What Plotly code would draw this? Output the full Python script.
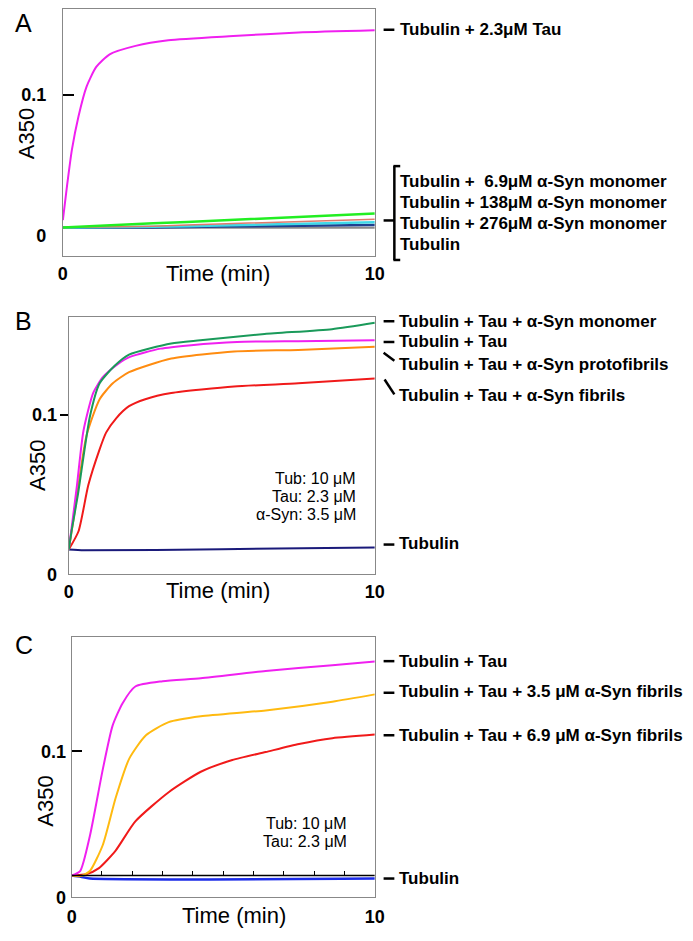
import plotly.graph_objects as go

# ---------------- data ----------------
# Panel A
a_tau_t = [0, 0.135, 0.29, 0.5, 0.76, 1.07, 1.5, 2.33, 3.38, 5.46, 7.55, 10]
a_tau_v = [0.0108, 0.0355, 0.061, 0.0847, 0.106, 0.12, 0.129, 0.135, 0.139, 0.142, 0.1446, 0.1462]
a_flat_t = [0, 2.9, 5, 10]
a_syn69_v = [0.0056, 0.0085, 0.0105, 0.0155]
a_syn138_v = [0.0056, 0.0065, 0.0080, 0.0115]
a_syn276_v = [0.0056, 0.0060, 0.0070, 0.0092]
a_tub_v = [0.0056, 0.0056, 0.0062, 0.0073]
a_base_v = [0.0054, 0.0054, 0.0054, 0.0054]

# Panel B
b_tau_t = [0, 0.1, 0.27, 0.48, 0.8, 1.12, 1.6, 2.0, 3.0, 4.0, 5.5, 7.5, 10]
b_tau_v = [0.0155, 0.03, 0.056, 0.09, 0.114, 0.124, 0.132, 0.1366, 0.1418, 0.144, 0.146, 0.1465, 0.147]
b_mono_t = [0, 0.1, 0.3, 0.69, 1.01, 1.5, 1.97, 3.35, 4.3, 6.4, 8.6, 10]
b_mono_v = [0.0155, 0.028, 0.05, 0.099, 0.12, 0.131, 0.138, 0.145, 0.147, 0.151, 0.154, 0.158]
b_proto_t = [0, 0.16, 0.58, 1.01, 1.44, 1.97, 3.35, 5.4, 7.5, 10]
b_proto_v = [0.0155, 0.035, 0.087, 0.110, 0.12, 0.127, 0.1356, 0.140, 0.141, 0.143]
b_fib_t = [0, 0.32, 0.64, 1.0, 1.22, 1.55, 1.97, 2.5, 3.35, 5.4, 7.5, 10]
b_fib_v = [0.0155, 0.027, 0.056, 0.078, 0.089, 0.098, 0.1056, 0.110, 0.1139, 0.118, 0.120, 0.123]
b_tub_t = [0, 0.5, 5, 10]
b_tub_v = [0.0155, 0.0150, 0.0157, 0.0168]

# Panel C
c_tau_t = [0, 0.28, 0.6, 1.03, 1.35, 1.68, 2.1, 3.0, 4.26, 6.4, 8.6, 10]
c_tau_v = [0.0149, 0.018, 0.042, 0.088, 0.1176, 0.133, 0.1444, 0.148, 0.150, 0.155, 0.159, 0.1615]
c_f35_t = [0, 0.3, 0.6, 1.03, 1.45, 1.9, 2.45, 3.2, 4.26, 6.4, 8.6, 10]
c_f35_v = [0.0149, 0.0145, 0.018, 0.036, 0.068, 0.095, 0.111, 0.12, 0.124, 0.128, 0.134, 0.139]
c_f69_t = [0, 0.5, 0.9, 1.45, 2.1, 3.2, 4.26, 5.3, 6.4, 7.5, 8.6, 10]
c_f69_v = [0.0149, 0.016, 0.020, 0.032, 0.052, 0.072, 0.086, 0.094, 0.0995, 0.105, 0.109, 0.1115]
c_tub_t = [0, 0.3, 0.6, 10]
c_tub_v = [0.0149, 0.014, 0.0128, 0.0128]
c_base_t = [0, 10]
c_base_v = [0.0149, 0.0149]

y_tickvals = [0, 0.1]
y_ticktext = ["0", "0.1"]
x_tickvals = [0, 10]
x_ticktext = ["0", "10"]

# ---------------- figure ----------------
# the page body has an 8px margin, so the figure is 16px smaller than the window
OFF = 8
W, H = 693 - 2 * OFF, 941 - 2 * OFF
def X(px): return min(1.0, max(0.0, (px - OFF) / W))
def Y(py): return min(1.0, max(0.0, 1 - (py - OFF) / H))

FONT = "Liberation Sans, Arial, sans-serif"
fig = go.Figure()

def add(t, v, color, xa, ya, width=2, shape="spline"):
    fig.add_trace(go.Scatter(x=t, y=v, mode="lines", xaxis=xa, yaxis=ya,
                             line=dict(color=color, width=width, shape=shape, smoothing=0.6),
                             showlegend=False, hoverinfo="skip"))

# A
add(a_flat_t, a_base_v, "#8a8a8a", "x", "y", 2)
add(a_flat_t, a_tub_v, "#1f3f8f", "x", "y", 2.5)
add(a_flat_t, a_syn276_v, "#3fd8e8", "x", "y", 2.5)
add(a_flat_t, a_syn138_v, "#e07a6a", "x", "y", 1.5)
add(a_flat_t, a_syn69_v, "#22ee22", "x", "y", 2.5)
add(a_tau_t, a_tau_v, "#f020f0", "x", "y", 2)
# B
add(b_tub_t, b_tub_v, "#1a1a7a", "x2", "y2", 2)
add(b_fib_t, b_fib_v, "#f01a1a", "x2", "y2", 2)
add(b_proto_t, b_proto_v, "#ff8c10", "x2", "y2", 2)
add(b_tau_t, b_tau_v, "#f020f0", "x2", "y2", 2)
add(b_mono_t, b_mono_v, "#1a9a5a", "x2", "y2", 2)
# C
add(c_base_t, c_base_v, "black", "x4", "y3", 1.5, "linear")
add(c_tub_t, c_tub_v, "#1a2ae8", "x3", "y3", 2.5)
add(c_f69_t, c_f69_v, "#f01a1a", "x3", "y3", 2)
add(c_f35_t, c_f35_v, "#ffba10", "x3", "y3", 2)
add(c_tau_t, c_tau_v, "#f020f0", "x3", "y3", 2)

tickfont = dict(family=FONT, size=18, color="black", weight="bold")

def xaxis(dom, anchor, standoff):
    return dict(domain=dom, anchor=anchor, range=[0, 10], showline=True, mirror=True,
                linecolor="#888", linewidth=1, showgrid=False, zeroline=False,
                tickvals=x_tickvals, ticktext=x_ticktext, ticks="", tickfont=tickfont,
                ticklabelstandoff=standoff, fixedrange=True)

def yaxis(dom, anchor, rng, side, ticklen, standoff):
    return dict(domain=dom, anchor=anchor, range=rng, showline=True, mirror=True,
                linecolor="#888", linewidth=1, showgrid=False, zeroline=False,
                tickvals=y_tickvals, ticktext=y_ticktext, ticks="", tickfont=tickfont,
                ticklabelstandoff=standoff,
                minor=dict(tickvals=[0.1], ticks=side, ticklen=ticklen, tickcolor="black", tickwidth=2),
                fixedrange=True)

A_RANGE = [-0.0148, 0.1613]   # top of panel A sits at the top of the figure
C_RANGE = [0, 0.178]
fig.update_layout(
    width=W, height=H, margin=dict(l=0, r=0, t=0, b=0),
    paper_bgcolor="white", plot_bgcolor="white", showlegend=False,
    xaxis=xaxis([X(59), X(378)], "y", 1),
    yaxis=yaxis([Y(258), Y(8)], "x", A_RANGE, "inside", 11, 12),
    xaxis2=xaxis([X(65), X(378)], "y2", 1),
    yaxis2=yaxis([Y(580), Y(320)], "x2", [0, 0.1615], "outside", 8, 7),
    xaxis3=xaxis([X(68), X(378)], "y3", 3),
    yaxis3=yaxis([Y(907), Y(644)], "x3", C_RANGE, "inside", 10, 1),
    xaxis4=dict(overlaying="x3", anchor="free", domain=[X(68), X(378)],
                position=Y(907) + (Y(644) - Y(907)) * c_base_v[0] / C_RANGE[1],
                range=[0, 10], showline=False,
                ticks="inside", ticklen=5, tickcolor="black", tickwidth=1, dtick=1,
                showticklabels=False, showgrid=False, zeroline=False, fixedrange=True),
)

ann = []
def text(x, y, s, size, bold=False, xanchor="left", angle=0):
    ann.append(dict(x=X(x), y=Y(y), xref="paper", yref="paper", text=s, showarrow=False,
                    xanchor=xanchor, yanchor="middle", textangle=angle,
                    font=dict(family=FONT, size=size, color="black",
                              weight="bold" if bold else "normal")))

# panel letters
text(8, 22, "A", 25)
text(8, 324, "B", 25)
text(8, 652, "C", 25)
# axis titles
text(22, 134, "A350", 22, angle=-90, xanchor="center")
text(218, 276, "Time (min)", 22, xanchor="center")
text(33, 470, "A350", 22, angle=-90, xanchor="center")
text(218, 597, "Time (min)", 22, xanchor="center")
text(41, 810, "A350", 22, angle=-90, xanchor="center")
text(234, 925, "Time (min)", 22, xanchor="center")

LS = 17
# A labels
text(402, 29, "Tubulin + 2.3μM Tau", LS, True)
text(402, 183, "Tubulin +\u00a0 6.9μM α-Syn monomer", LS, True)
text(402, 204, "Tubulin + 138μM α-Syn monomer", LS, True)
text(402, 225, "Tubulin + 276μM α-Syn monomer", LS, True)
text(402, 246, "Tubulin", LS, True)
# B labels
text(401, 324, "Tubulin + Tau + α-Syn monomer", LS, True)
text(401, 345, "Tubulin + Tau", LS, True)
text(401, 368, "Tubulin + Tau + α-Syn protofibrils", LS, True)
text(401, 399, "Tubulin + Tau + α-Syn fibrils", LS, True)
text(401, 549, "Tubulin", LS, True)
# C labels
text(401, 668, "Tubulin + Tau", LS, True)
text(401, 699, "Tubulin + Tau + 3.5 μM α-Syn fibrils", LS, True)
text(401, 743, "Tubulin + Tau + 6.9 μM α-Syn fibrils", LS, True)
text(401, 888, "Tubulin", LS, True)
# conditions
for (yy, s) in [(483, "Tub: 10 μM"), (501, "Tau: 2.3 μM"), (520, "α-Syn: 3.5 μM")]:
    text(361, yy, s, 16, xanchor="right")
for (yy, s) in [(832, "Tub: 10 μM"), (851, "Tau: 2.3 μM")]:
    text(352, yy, s, 16, xanchor="right")
fig.update_layout(annotations=ann)

shapes = []
def seg(x0, y0, x1, y1, w=2.5):
    shapes.append(dict(type="line", xref="paper", yref="paper", x0=X(x0), y0=Y(y0),
                       x1=X(x1), y1=Y(y1), line=dict(color="black", width=w)))
# A dash + bracket
seg(387, 29, 398, 29)
seg(398, 167, 398, 262)
seg(397, 167, 404, 167)
seg(397, 262, 404, 262)
seg(387, 222, 398, 222)
# B dashes
seg(387, 324, 398, 324)
seg(387, 345, 398, 345)
seg(387, 356, 398, 364)
seg(388, 383, 398, 398)
seg(387, 550, 398, 550)
# C dashes
seg(387, 668, 398, 668)
seg(387, 700, 398, 700)
seg(387, 743, 398, 743)
seg(387, 888, 398, 888)
fig.update_layout(shapes=shapes)

fig.write_html("out.html")
